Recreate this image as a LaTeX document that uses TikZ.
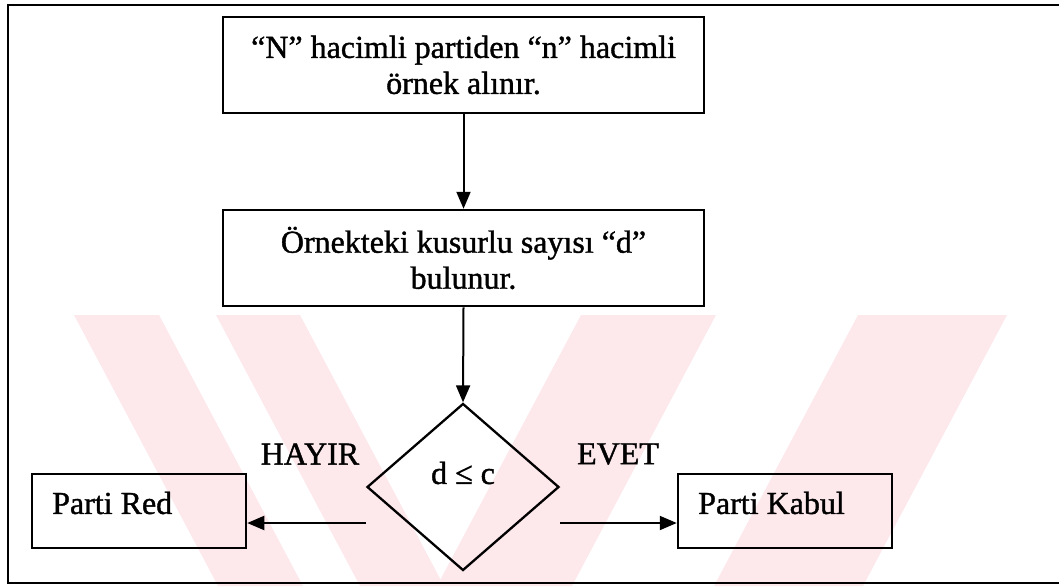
\documentclass[tikz,border=0pt]{standalone}
\usepackage{fontspec}
\setmainfont{Liberation Serif}[BoldFont=Liberation Serif, BoldFeatures={FakeBold=1.2}]
\usetikzlibrary{shapes.geometric,arrows.meta}

\definecolor{wmpink}{RGB}{253,232,236}

\newcommand{\labelfont}{\fontsize{32}{36}\selectfont\bfseries}

\tikzset{
  frameline/.style={line width=2.5pt},
  stepbox/.style={draw, line width=2.5pt, rectangle, inner sep=0pt,
    minimum width=481pt, minimum height=96pt, align=center, font=\labelfont},
  endbox/.style={draw, line width=2.5pt, rectangle, inner sep=0pt,
    minimum width=214pt, minimum height=74pt},
  endtext/.style={anchor=west, inner sep=0pt, font=\labelfont},
  decision/.style={draw, line width=2.3pt, diamond, inner sep=0pt,
    minimum width=192pt, minimum height=167pt},
  lbl/.style={inner sep=0pt, font=\labelfont},
  flow/.style={line width=2pt, -{Triangle[length=17pt,width=14pt]}},
}

\begin{document}
\begin{tikzpicture}[x=1pt, y=-1pt]
\useasboundingbox (0,0) rectangle (1059,586);

% faint diagonal bands in the background
\begin{scope}
  \clip (0,315) rectangle (1059,586);
  \fill[wmpink] (74,315) -- (159,315) -- (303,586) -- (218,586) -- cycle;
  \fill[wmpink] (216,315) -- (300,315) -- (444,586) -- (360,586) -- cycle;
  \fill[wmpink] (581,315) -- (716,315) -- (572,586) -- (437,586) -- cycle;
  \fill[wmpink] (858,315) -- (1007,315) -- (863,586) -- (714,586) -- cycle;
\end{scope}

% outer frame, open on the right
\draw[frameline] (1070,5) -- (8,5) -- (8,583) -- (1070,583);

% process steps
\node[stepbox] (sample) at (463.5,65) {“N” hacimli partiden “n” hacimli\\örnek alınır.};
\node[stepbox] (count) at (463.5,258) {Örnekteki kusurlu sayısı “d”\\bulunur.};

% decision
\node[decision] (dec) at (463,487) {};
\node[lbl] (cond) at (463,473) {d ≤ c};

% outcomes
\node[endbox] (reject) at (139,511) {};
\node[endtext] (rejectText) at (52,503) {Parti Red};
\node[endbox] (accept) at (785,511) {};
\node[endtext] (acceptText) at (698,503) {Parti Kabul};

% branch labels
\node[lbl] (no) at (310,454) {HAYIR};
\node[lbl] (yes) at (618,454) {EVET};

% branch starts, a little below the side corners
\coordinate (noStart) at ([yshift=-36pt]dec.west);
\coordinate (yesStart) at ([yshift=-36pt]dec.east);

% connectors
\draw[flow] (sample.south) -- (count.north);
\draw[flow] (count.south) -- (dec.north);
\draw[flow] (noStart) -- (noStart -| reject.east);
\draw[flow] (yesStart) -- (yesStart -| accept.west);
\end{tikzpicture}
\end{document}
